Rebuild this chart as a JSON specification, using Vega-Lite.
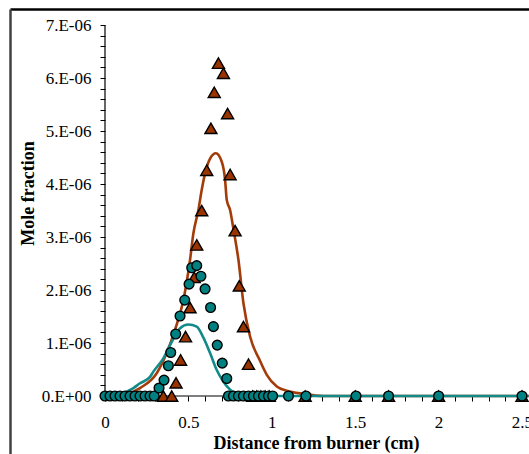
{
  "$schema": "https://vega.github.io/schema/vega-lite/v6.json",
  "width": 519,
  "height": 445,
  "autosize": {"type": "none"},
  "padding": {"left": 10, "top": 9, "right": 0, "bottom": 0},
  "background": "white",
  "config": {"view": {"stroke": null}, "font": "Liberation Serif"},
  "datasets": {
    "axisLines": [
      {"x0": 0, "x1": 2.54, "y0": 0, "y1": 0},
      {"x0": 0, "x1": 0, "y0": 0, "y1": 7e-6}
    ],
    "modelA": [
      {"d": 0, "v": 0}, {"d": 0.1, "v": 0}, {"d": 0.13, "v": 3e-8}, {"d": 0.21, "v": 1.5e-7},
      {"d": 0.31, "v": 4.3e-7}, {"d": 0.37, "v": 8.1e-7}, {"d": 0.42, "v": 1.25e-6}, {"d": 0.47, "v": 1.81e-6},
      {"d": 0.51, "v": 2.57e-6}, {"d": 0.53, "v": 3.07e-6}, {"d": 0.56, "v": 3.51e-6}, {"d": 0.58, "v": 3.89e-6},
      {"d": 0.6, "v": 4.2e-6}, {"d": 0.63, "v": 4.48e-6}, {"d": 0.665, "v": 4.58e-6}, {"d": 0.7, "v": 4.42e-6},
      {"d": 0.72, "v": 4.08e-6}, {"d": 0.73, "v": 3.7e-6}, {"d": 0.75, "v": 3.51e-6}, {"d": 0.77, "v": 3.15e-6},
      {"d": 0.8, "v": 2.57e-6}, {"d": 0.83, "v": 1.75e-6}, {"d": 0.87, "v": 1.12e-6}, {"d": 0.93, "v": 6.6e-7},
      {"d": 0.97, "v": 4.0e-7}, {"d": 1.03, "v": 1.8e-7}, {"d": 1.09, "v": 1.0e-7}, {"d": 1.19, "v": 4e-8},
      {"d": 1.31, "v": 0}, {"d": 2.54, "v": 0}
    ],
    "modelB": [
      {"d": 0, "v": 0}, {"d": 0.08, "v": 0}, {"d": 0.13, "v": 8e-8}, {"d": 0.17, "v": 1.5e-7},
      {"d": 0.21, "v": 2.4e-7}, {"d": 0.27, "v": 3.6e-7}, {"d": 0.29, "v": 4.6e-7}, {"d": 0.35, "v": 7.1e-7},
      {"d": 0.4, "v": 1.02e-6}, {"d": 0.45, "v": 1.28e-6}, {"d": 0.5, "v": 1.35e-6}, {"d": 0.55, "v": 1.31e-6},
      {"d": 0.59, "v": 1.1e-6}, {"d": 0.63, "v": 8.1e-7}, {"d": 0.67, "v": 4.9e-7}, {"d": 0.71, "v": 2.7e-7},
      {"d": 0.75, "v": 1.2e-7}, {"d": 0.8, "v": 2e-8}, {"d": 0.85, "v": 0}, {"d": 2.54, "v": 0}
    ],
    "measA": [
      {"d": 0.35, "v": 0}, {"d": 0.4, "v": 0}, {"d": 0.426, "v": 2.5e-7}, {"d": 0.453, "v": 6.8e-7},
      {"d": 0.483, "v": 1.12e-6}, {"d": 0.51, "v": 1.67e-6}, {"d": 0.535, "v": 2.24e-6}, {"d": 0.55, "v": 2.85e-6},
      {"d": 0.58, "v": 3.5e-6}, {"d": 0.61, "v": 4.26e-6}, {"d": 0.635, "v": 5.05e-6}, {"d": 0.655, "v": 5.73e-6},
      {"d": 0.68, "v": 6.28e-6}, {"d": 0.71, "v": 6.09e-6}, {"d": 0.735, "v": 5.33e-6}, {"d": 0.75, "v": 4.18e-6},
      {"d": 0.78, "v": 3.12e-6}, {"d": 0.805, "v": 2.08e-6}, {"d": 0.83, "v": 1.31e-6}, {"d": 0.86, "v": 6.0e-7},
      {"d": 0.885, "v": 0}, {"d": 0.91, "v": 0}, {"d": 0.935, "v": 0}, {"d": 0.96, "v": 0}, {"d": 0.985, "v": 0},
      {"d": 1.2, "v": 0}, {"d": 1.5, "v": 0}, {"d": 1.7, "v": 0}, {"d": 2.0, "v": 0}, {"d": 2.5, "v": 0}
    ],
    "measB": [
      {"d": 0, "v": 0}, {"d": 0.03, "v": 0}, {"d": 0.06, "v": 0}, {"d": 0.09, "v": 0}, {"d": 0.12, "v": 0},
      {"d": 0.15, "v": 0}, {"d": 0.18, "v": 0}, {"d": 0.21, "v": 0}, {"d": 0.24, "v": 0}, {"d": 0.27, "v": 0},
      {"d": 0.295, "v": 0}, {"d": 0.324, "v": 1.5e-7}, {"d": 0.354, "v": 3.0e-7}, {"d": 0.38, "v": 5.7e-7},
      {"d": 0.394, "v": 8.2e-7}, {"d": 0.424, "v": 1.17e-6}, {"d": 0.45, "v": 1.51e-6}, {"d": 0.478, "v": 1.81e-6},
      {"d": 0.504, "v": 2.11e-6}, {"d": 0.52, "v": 2.42e-6}, {"d": 0.55, "v": 2.46e-6}, {"d": 0.575, "v": 2.26e-6},
      {"d": 0.6, "v": 2.02e-6}, {"d": 0.633, "v": 1.67e-6}, {"d": 0.65, "v": 1.31e-6}, {"d": 0.673, "v": 9.6e-7},
      {"d": 0.703, "v": 6.2e-7}, {"d": 0.73, "v": 3.3e-7},
      {"d": 0.74, "v": 0}, {"d": 0.77, "v": 0}, {"d": 0.8, "v": 0}, {"d": 0.83, "v": 0}, {"d": 0.86, "v": 0},
      {"d": 0.89, "v": 0}, {"d": 0.92, "v": 0}, {"d": 0.95, "v": 0}, {"d": 0.98, "v": 0}, {"d": 1.005, "v": 0},
      {"d": 1.1, "v": 0}, {"d": 1.205, "v": 0}, {"d": 1.505, "v": 0}, {"d": 1.7, "v": 0}, {"d": 2.0, "v": 0},
      {"d": 2.5, "v": 0}
    ]
  },
  "layer": [
    {
      "data": {"name": "axisLines"},
      "mark": {"type": "rule", "color": "#000000", "strokeWidth": 1.2},
      "encoding": {
        "x": {
          "field": "x0", "type": "quantitative",
          "scale": {"domain": [-0.5695, 2.542], "nice": false, "zero": false},
          "axis": {"orient": "top", "domain": true, "domainColor": "#000000", "domainWidth": 2.5,
                   "ticks": false, "labels": false, "title": null, "grid": false}
        },
        "x2": {"field": "x1"},
        "y": {
          "field": "y0", "type": "quantitative",
          "scale": {"domain": [-1.0943e-6, 7.3019e-6], "nice": false, "zero": false},
          "axis": {"orient": "left", "domain": true, "domainColor": "#404040", "domainWidth": 2.5,
                   "ticks": false, "labels": false, "title": null, "grid": false}
        },
        "y2": {"field": "y1"}
      }
    },
    {
      "data": {"name": "modelA"},
      "mark": {"type": "line", "color": "#A33C0A", "strokeWidth": 2.6, "interpolate": "monotone"},
      "encoding": {
        "x": {
          "field": "d", "type": "quantitative",
          "scale": {"domain": [-0.5695, 2.542], "nice": false, "zero": false},
          "axis": {
            "orient": "bottom", "offset": -58, "domain": false, "grid": false, "ticks": true,
            "values": [0, 0.1, 0.2, 0.3, 0.4, 0.5, 0.6, 0.7, 0.8, 0.9, 1, 1.1, 1.2, 1.3, 1.4, 1.5, 1.6, 1.7, 1.8, 1.9, 2, 2.1, 2.2, 2.3, 2.4, 2.5],
            "labelExpr": "abs(datum.value * 2 - round(datum.value * 2)) < 0.001 ? '' + datum.value : ''",
            "tickSize": 5, "tickColor": "#000000", "tickWidth": 1, "tickOpacity": 1,
            "labelFont": "Liberation Serif", "labelFontSize": 17, "labelColor": "#000000",
            "labelPadding": 13, "labelFlush": false, "labelOverlap": false, "labelBound": false,
            "title": "Distance from burner (cm)",
            "titleFont": "Liberation Serif", "titleFontSize": 18, "titleFontWeight": "bold", "titleColor": "#000000",
            "titleX": 306, "titleY": 52, "titleAlign": "center", "titleBaseline": "alphabetic"
          }
        },
        "y": {
          "field": "v", "type": "quantitative",
          "scale": {"domain": [-1.0943e-6, 7.3019e-6], "nice": false, "zero": false},
          "axis": {
            "orient": "left", "offset": -95, "domain": false, "grid": false, "ticks": true,
            "values": [0, 2e-7, 4e-7, 6e-7, 8e-7, 1e-6, 1.2e-6, 1.4e-6, 1.6e-6, 1.8e-6, 2e-6, 2.2e-6, 2.4e-6, 2.6e-6, 2.8e-6, 3e-6, 3.2e-6, 3.4e-6, 3.6e-6, 3.8e-6, 4e-6, 4.2e-6, 4.4e-6, 4.6e-6, 4.8e-6, 5e-6, 5.2e-6, 5.4e-6, 5.6e-6, 5.8e-6, 6e-6, 6.2e-6, 6.4e-6, 6.6e-6, 6.8e-6, 7e-6],
            "labelExpr": "abs(datum.value * 1e6 - round(datum.value * 1e6)) < 0.01 ? (round(datum.value * 1e6) == 0 ? '0.E+00' : round(datum.value * 1e6) + '.E-06') : ''",
            "tickSize": 5, "tickColor": "#000000", "tickWidth": 1, "tickOpacity": 1,
            "labelFont": "Liberation Serif", "labelFontSize": 17, "labelColor": "#000000",
            "labelPadding": 9, "labelFlush": false, "labelOverlap": false, "labelBound": false,
            "title": "Mole fraction",
            "titleFont": "Liberation Serif", "titleFontSize": 18, "titleFontWeight": "bold", "titleColor": "#000000",
            "titleAngle": -90, "titleX": -72, "titleY": 184, "titleAlign": "center", "titleBaseline": "alphabetic"
          }
        }
      }
    },
    {
      "data": {"name": "modelB"},
      "mark": {"type": "line", "color": "#138A8A", "strokeWidth": 2.6, "interpolate": "monotone"},
      "encoding": {
        "x": {"field": "d", "type": "quantitative", "scale": {"domain": [-0.5695, 2.542], "nice": false, "zero": false}, "axis": null},
        "y": {"field": "v", "type": "quantitative", "scale": {"domain": [-1.0943e-6, 7.3019e-6], "nice": false, "zero": false}, "axis": null}
      }
    },
    {
      "data": {"name": "measA"},
      "mark": {"type": "point", "shape": "triangle-up", "filled": true, "fill": "#993300", "stroke": "#000000", "strokeWidth": 1.4, "opacity": 1, "size": 145},
      "encoding": {
        "x": {"field": "d", "type": "quantitative", "scale": {"domain": [-0.5695, 2.542], "nice": false, "zero": false}, "axis": null},
        "y": {"field": "v", "type": "quantitative", "scale": {"domain": [-1.0943e-6, 7.3019e-6], "nice": false, "zero": false}, "axis": null}
      }
    },
    {
      "data": {"name": "measB"},
      "mark": {"type": "point", "shape": "circle", "filled": true, "fill": "#008080", "stroke": "#000000", "strokeWidth": 1.4, "opacity": 1, "size": 95},
      "encoding": {
        "x": {"field": "d", "type": "quantitative", "scale": {"domain": [-0.5695, 2.542], "nice": false, "zero": false}, "axis": null},
        "y": {"field": "v", "type": "quantitative", "scale": {"domain": [-1.0943e-6, 7.3019e-6], "nice": false, "zero": false}, "axis": null}
      }
    }
  ],
  "resolve": {"axis": {"x": "independent", "y": "independent"}}
}
